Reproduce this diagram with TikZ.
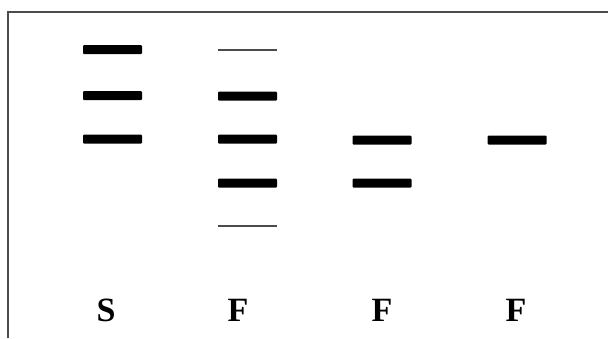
\documentclass[tikz,border=0pt]{standalone}
\usepackage{fontspec}
\setmainfont{Liberation Serif}

\begin{document}
\begin{tikzpicture}[
    x=1pt, y=-1pt,
    band/.style={fill=black, rounded corners=1pt, inner sep=0pt, minimum width=59pt, minimum height=9pt},
    faint/.style={fill=black!70, inner sep=0pt, minimum width=59pt, minimum height=2.5pt},
    lane/.style={font=\fontsize{34}{38}\selectfont\bfseries, inner sep=0pt}
]
\useasboundingbox (0,0) rectangle (608,338);
\draw[line width=1.5pt, black!70] (8,338) -- (8,12) -- (608,12);

% lane S
\node[band] (s1) at (112.5,49.5) {};
\node[band] (s2) at (112.5,95.5) {};
\node[band] (s3) at (112.5,139) {};

% lane F, first
\node[faint] (fa0) at (247.5,50) {};
\node[band] (fa1) at (247.5,96) {};
\node[band] (fa2) at (247.5,139) {};
\node[band] (fa3) at (247.5,183) {};
\node[faint] (fa4) at (247.5,226) {};

% lane F, second
\node[band] (fb1) at (382,140) {};
\node[band] (fb2) at (382,183) {};

% lane F, third
\node[band] (fc1) at (517,140) {};

\node[lane] (ls) at (106,310) {S};
\node[lane] (lfa) at (238,310) {F};
\node[lane] (lfb) at (382,310) {F};
\node[lane] (lfc) at (516,310) {F};
\end{tikzpicture}
\end{document}
